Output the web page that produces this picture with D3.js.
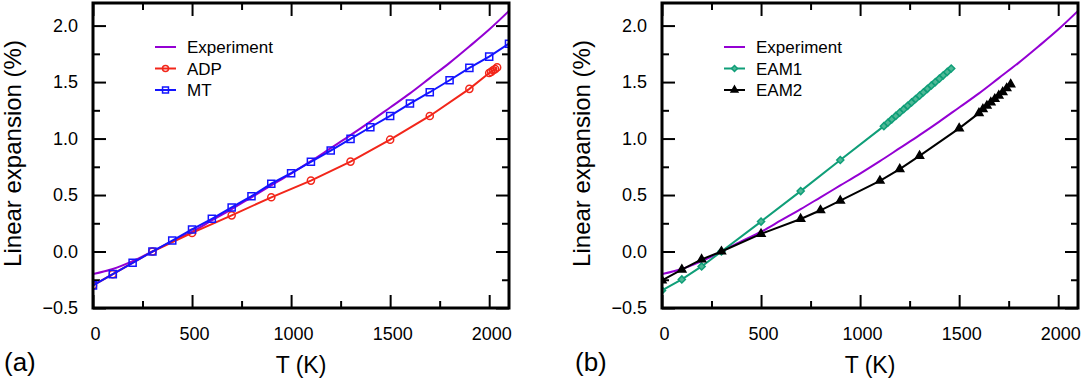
<!DOCTYPE html>
<html lang="en">
<head>
<title>Linear expansion</title>
<meta charset="utf-8">
<script src="https://d3js.org/d3.v7.min.js"></script>
<style>
	body { margin: 0; background: #fff; }
	text { font-family: "Liberation Sans", Arial, Helvetica, sans-serif; fill: #000; }
	.axis path.domain { display: none; }
	.axis line { stroke: #000; stroke-width: 2px; }
	.axis text { font-size: 18px; }
</style>
</head>

<body>
<div id="chart"></div>

<script>
	// experiment curve
	var expT    = [0, 100, 200, 300, 400, 500, 600, 700, 800, 900, 1000, 1100, 1200, 1300, 1400, 1500, 1600, 1700, 1800, 1900, 2000, 2100];
	var expVals = [-0.20, -0.155, -0.085, 0.0, 0.09, 0.175, 0.275, 0.375, 0.48, 0.585, 0.69, 0.80, 0.915, 1.03, 1.15, 1.275, 1.40, 1.535, 1.67, 1.815, 1.965, 2.13];

	// panel (a)
	var adpT    = [0, 100, 300, 500, 700, 900, 1100, 1300, 1500, 1700, 1900, 2000, 2010, 2020, 2030, 2040];
	var adpVals = [-0.30, -0.20, 0.0, 0.165, 0.32, 0.48, 0.628, 0.796, 0.99, 1.20, 1.44, 1.58, 1.59, 1.605, 1.615, 1.63];
	var mtT     = [0, 100, 200, 300, 400, 500, 600, 700, 800, 900, 1000, 1100, 1200, 1300, 1400, 1500, 1600, 1700, 1800, 1900, 2000, 2100];
	var mtVals  = [-0.30, -0.20, -0.10, 0.0, 0.097, 0.195, 0.29, 0.39, 0.49, 0.60, 0.693, 0.794, 0.894, 0.997, 1.10, 1.20, 1.31, 1.41, 1.516, 1.626, 1.725, 1.84];

	// panel (b)
	var eam1T    = [0, 100, 200, 300, 500, 700, 900, 1120, 1140, 1160, 1180, 1200, 1220, 1240, 1260, 1280, 1300, 1320, 1340, 1360, 1380, 1400, 1420, 1440, 1460];
	var eam1Vals = [-0.344, -0.247, -0.132, 0.0, 0.265, 0.535, 0.81, 1.11, 1.14, 1.17, 1.20, 1.23, 1.26, 1.29, 1.32, 1.35, 1.38, 1.41, 1.44, 1.47, 1.50, 1.53, 1.56, 1.59, 1.62];
	var eam2T    = [0, 100, 200, 300, 500, 700, 800, 900, 1100, 1200, 1300, 1500, 1600, 1620, 1640, 1660, 1680, 1700, 1720, 1740, 1760];
	var eam2Vals = [-0.256, -0.16, -0.07, 0.0, 0.156, 0.288, 0.365, 0.45, 0.626, 0.73, 0.847, 1.09, 1.225, 1.26, 1.29, 1.32, 1.35, 1.38, 1.41, 1.445, 1.48];

	var xTicks = [0, 500, 1000, 1500, 2000];
	var xMinor = [250, 750, 1250, 1750];
	var yTicks = [-0.5, 0.0, 0.5, 1.0, 1.5, 2.0];
	var yMinor = [-0.25, 0.25, 0.75, 1.25, 1.75];
	var xTitle = "T (K)", yTitle = "Linear expansion (%)";

	var col = {exp: "#9400d3", adp: "#f2261a", mt: "#1414ff", eam1: "#0f9e78", eam2: "#000"};

	var width = 416, height = 305;

	var svg = d3.select("#chart").append("svg")
		.attr("width", 1084)
		.attr("height", 387);

	var x = d3.scaleLinear().domain([0, 2100]).range([0, width]),
		y = d3.scaleLinear().domain([-0.5, 2.2]).range([height, 0]);

	function zip(ts, vs) {
		return ts.map(function(t, i) { return {t: t, v: vs[i]}; });
	}

	function panel(left, id, label, series) {
		var g = svg.append("g").attr("transform", "translate(" + left + ",3)");

		g.append("clipPath").attr("id", "clip" + id)
			.append("rect").attr("width", width).attr("height", height);

		// ticks pointing in
		g.append("g").attr("class", "axis")
			.attr("transform", "translate(0," + height + ")")
			.call(d3.axisBottom(x).tickValues(xTicks).tickSize(-13).tickPadding(19).tickFormat(d3.format("d")))
			.selectAll("text").attr("dx", 2);
		g.append("g").attr("class", "axis")
			.attr("transform", "translate(0," + height + ")")
			.call(d3.axisBottom(x).tickValues(xMinor).tickSize(-7).tickFormat(""));
		g.append("g").attr("class", "axis")
			.call(d3.axisTop(x).tickValues(xTicks).tickSize(-13).tickFormat(""));
		g.append("g").attr("class", "axis")
			.call(d3.axisTop(x).tickValues(xMinor).tickSize(-7).tickFormat(""));
		g.append("g").attr("class", "axis")
			.call(d3.axisLeft(y).tickValues(yTicks).tickSize(-13).tickPadding(15).tickFormat(d3.format(".1f")));
		g.append("g").attr("class", "axis")
			.call(d3.axisLeft(y).tickValues(yMinor).tickSize(-7).tickFormat(""));
		g.append("g").attr("class", "axis")
			.attr("transform", "translate(" + width + ",0)")
			.call(d3.axisRight(y).tickValues(yTicks).tickSize(-13).tickFormat(""));
		g.append("g").attr("class", "axis")
			.attr("transform", "translate(" + width + ",0)")
			.call(d3.axisRight(y).tickValues(yMinor).tickSize(-7).tickFormat(""));

		var plot = g.append("g").attr("clip-path", "url(#clip" + id + ")");

		var line = d3.line().x(function(d) { return x(d.t); }).y(function(d) { return y(d.v); });
		var smooth = d3.line().curve(d3.curveCatmullRom).x(function(d) { return x(d.t); }).y(function(d) { return y(d.v); });

		series.forEach(function(s) {
			var data = zip(s.t, s.v);
			plot.append("path")
				.datum(data)
				.attr("fill", "none")
				.attr("stroke", s.color)
				.attr("stroke-width", 2)
				.attr("d", s.marker ? line : smooth);
			if (s.marker) {
				plot.selectAll(".m" + s.name)
					.data(data)
					.enter()
					.append("path")
					.attr("class", "m" + s.name)
					.attr("transform", function(d) { return "translate(" + x(d.t) + "," + y(d.v) + ")"; })
					.attr("d", d3.symbol().type(s.marker).size(s.size))
					.attr("fill", s.fill)
					.attr("stroke", s.color)
					.attr("stroke-width", 1.5);
			}
		});

		// legend
		var leg = g.append("g").attr("transform", "translate(62,44)");
		series.forEach(function(s, i) {
			var r = leg.append("g").attr("transform", "translate(0," + (i * 21.5) + ")");
			r.append("line").attr("x1", 0).attr("x2", 21)
				.attr("stroke", s.color).attr("stroke-width", 2);
			if (s.marker) {
				r.append("path").attr("transform", "translate(10.5,0)")
					.attr("d", d3.symbol().type(s.marker).size(s.size * 0.7))
					.attr("fill", s.fill).attr("stroke", s.color).attr("stroke-width", 1.5);
			}
			r.append("text").attr("x", 32).attr("dy", "0.36em")
				.style("font-size", "17px").text(s.name);
		});

		// frame
		g.append("rect")
			.attr("width", width).attr("height", height)
			.attr("fill", "none").attr("stroke", "#000").attr("stroke-width", 3);

		g.append("text")
			.attr("x", width / 2).attr("y", 370)
			.attr("text-anchor", "middle")
			.style("font-size", "23px")
			.text(xTitle);
		g.append("text")
			.attr("transform", "translate(-72," + (height / 2 - 2) + ") rotate(-90)")
			.attr("text-anchor", "middle")
			.style("font-size", "24px")
			.text(yTitle);
		g.append("text")
			.attr("x", -left + 4 + (id == "b" ? 571 : 0)).attr("y", 368)
			.style("font-size", "26px")
			.text(label);
	}

	panel(93, "a", "(a)", [
		{name: "Experiment", t: expT, v: expVals, color: col.exp},
		{name: "ADP", t: adpT, v: adpVals, color: col.adp, marker: d3.symbolCircle, size: 40, fill: "none"},
		{name: "MT", t: mtT, v: mtVals, color: col.mt, marker: d3.symbolSquare, size: 50, fill: "none"}
	]);

	panel(662, "b", "(b)", [
		{name: "Experiment", t: expT, v: expVals, color: col.exp},
		{name: "EAM1", t: eam1T, v: eam1Vals, color: col.eam1, marker: d3.symbolDiamond2, size: 32, fill: "#4fb896"},
		{name: "EAM2", t: eam2T, v: eam2Vals, color: col.eam2, marker: d3.symbolTriangle, size: 28, fill: "#000"}
	]);
</script>

</body>
</html>
